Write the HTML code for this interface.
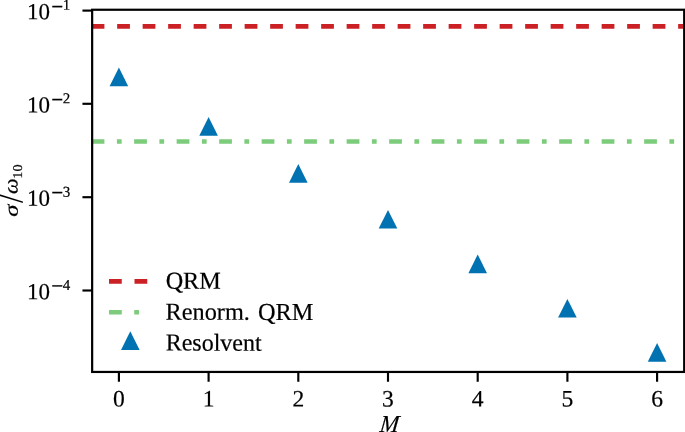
<!DOCTYPE html>
<html lang="en"><head><meta charset="utf-8"><title>sigma/omega10 vs M</title>
<style>html,body{margin:0;padding:0;background:#fff;overflow:hidden}svg{display:block}text{font-family:"Liberation Serif",serif;fill:#000;stroke:#000;stroke-width:0.2px;text-rendering:geometricPrecision}</style></head><body>
<svg width="685" height="432" viewBox="0 0 685 432">
<rect width="685" height="432" fill="#fff"/>
<line x1="91.65" x2="684.2" y1="26.4" y2="26.4" stroke="#cb2124" stroke-width="4.6" stroke-dasharray="12.75 12.75"/>
<line x1="91.65" x2="684.2" y1="141.55" y2="141.55" stroke="#7ccc7c" stroke-width="4.6" stroke-dasharray="12.75 12.5 4.75 12.5"/>
<polygon points="118.90,67.50 109.60,86.20 128.20,86.20" fill="#0072b2"/>
<polygon points="208.60,117.00 199.30,135.70 217.90,135.70" fill="#0072b2"/>
<polygon points="298.30,164.00 289.00,182.70 307.60,182.70" fill="#0072b2"/>
<polygon points="388.00,209.90 378.70,228.60 397.30,228.60" fill="#0072b2"/>
<polygon points="477.70,254.50 468.40,273.20 487.00,273.20" fill="#0072b2"/>
<polygon points="567.40,298.90 558.10,317.60 576.70,317.60" fill="#0072b2"/>
<polygon points="657.10,343.00 647.80,361.70 666.40,361.70" fill="#0072b2"/>
<line x1="118.9" x2="118.9" y1="371.95" y2="381.75" stroke="#000" stroke-width="2.15"/>
<line x1="208.6" x2="208.6" y1="371.95" y2="381.75" stroke="#000" stroke-width="2.15"/>
<line x1="298.3" x2="298.3" y1="371.95" y2="381.75" stroke="#000" stroke-width="2.15"/>
<line x1="388.0" x2="388.0" y1="371.95" y2="381.75" stroke="#000" stroke-width="2.15"/>
<line x1="477.7" x2="477.7" y1="371.95" y2="381.75" stroke="#000" stroke-width="2.15"/>
<line x1="567.4" x2="567.4" y1="371.95" y2="381.75" stroke="#000" stroke-width="2.15"/>
<line x1="657.1" x2="657.1" y1="371.95" y2="381.75" stroke="#000" stroke-width="2.15"/>
<line x1="82.45" x2="92.15" y1="10.6" y2="10.6" stroke="#000" stroke-width="2.15"/>
<line x1="82.45" x2="92.15" y1="103.8" y2="103.8" stroke="#000" stroke-width="2.15"/>
<line x1="82.45" x2="92.15" y1="197.2" y2="197.2" stroke="#000" stroke-width="2.15"/>
<line x1="82.45" x2="92.15" y1="290.5" y2="290.5" stroke="#000" stroke-width="2.15"/>
<rect x="92.15" y="9.75" width="592.05" height="362.20" fill="none" stroke="#000" stroke-width="2.2"/>
<line x1="109" x2="151.5" y1="281.4" y2="281.4" stroke="#cb2124" stroke-width="4.6" stroke-dasharray="12.75 12.75"/>
<line x1="109" x2="151.5" y1="312.3" y2="312.3" stroke="#7ccc7c" stroke-width="4.6" stroke-dasharray="12.75 12.5 4.75 12.5"/>
<polygon points="130.30,331.35 121.00,350.05 139.60,350.05" fill="#0072b2"/>
<text transform="translate(165.63 288.70) rotate(0.05) scale(0.9910 1)" font-size="24.43">QRM</text>
<text transform="translate(165.57 319.80) rotate(0.05) scale(0.9944 1)" font-size="24.43">Renorm. <tspan x="93.03">QRM</tspan></text>
<text transform="translate(165.68 350.60) rotate(0.05) scale(0.9831 1)" font-size="24.43">Resolvent</text>
<text transform="translate(118.90 406.63) rotate(0.05) scale(0.9995 1)" font-size="23.58" text-anchor="middle">0</text>
<text transform="translate(208.60 406.63) rotate(0.05) scale(0.9995 1)" font-size="23.58" text-anchor="middle">1</text>
<text transform="translate(298.30 406.63) rotate(0.05) scale(0.9995 1)" font-size="23.58" text-anchor="middle">2</text>
<text transform="translate(388.00 406.63) rotate(0.05) scale(0.9995 1)" font-size="23.58" text-anchor="middle">3</text>
<text transform="translate(477.70 406.63) rotate(0.05) scale(0.9995 1)" font-size="23.58" text-anchor="middle">4</text>
<text transform="translate(567.40 406.63) rotate(0.05) scale(0.9995 1)" font-size="23.58" text-anchor="middle">5</text>
<text transform="translate(657.10 406.63) rotate(0.05) scale(0.9995 1)" font-size="23.58" text-anchor="middle">6</text>
<g>
<text transform="translate(26.98 19.24) rotate(0.05) scale(0.9989 1)" font-size="23.01">10</text>
<text transform="translate(51.14 14.44) rotate(0.05) scale(0.8865 1)" font-size="24.00">−</text>
<text transform="translate(66.55 9.73) rotate(0.05) scale(0.9969 1)" font-size="15.05" text-anchor="middle">1</text>
</g>
<g>
<text transform="translate(26.98 112.44) rotate(0.05) scale(0.9989 1)" font-size="23.01">10</text>
<text transform="translate(51.14 107.49) rotate(0.05) scale(0.8865 1)" font-size="24.00">−</text>
<text transform="translate(66.55 103.33) rotate(0.05) scale(0.9969 1)" font-size="15.05" text-anchor="middle">2</text>
</g>
<g>
<text transform="translate(26.98 205.84) rotate(0.05) scale(0.9989 1)" font-size="23.01">10</text>
<text transform="translate(51.14 200.54) rotate(0.05) scale(0.8865 1)" font-size="24.00">−</text>
<text transform="translate(66.55 196.73) rotate(0.05) scale(0.9969 1)" font-size="15.05" text-anchor="middle">3</text>
</g>
<g>
<text transform="translate(26.98 299.14) rotate(0.05) scale(0.9989 1)" font-size="23.01">10</text>
<text transform="translate(51.14 293.64) rotate(0.05) scale(0.8865 1)" font-size="24.00">−</text>
<text transform="translate(66.55 290.03) rotate(0.05) scale(0.9969 1)" font-size="15.05" text-anchor="middle">4</text>
</g>
<text transform="translate(379.23 432.10) rotate(0.05) skewX(-6.4) scale(0.9337 1)" font-size="24.43" style="font-style:italic">M</text>
<g transform="rotate(-90)">
<text transform="translate(-216.79 17.80) rotate(0.05) scale(1.2537 1)" font-size="19.62" style="font-style:italic">σ</text>
<text transform="translate(-203.00 22.53) rotate(0.05) scale(0.8888 1)" font-size="36.97" style="stroke:none">/</text>
<text transform="translate(-194.06 17.40) rotate(0.05) scale(1.0807 1)" font-size="20.42" style="font-style:italic">ω</text>
<text transform="translate(-178.67 21.93) rotate(0.05) scale(1.0450 1)" font-size="13.53">10</text>
</g>
</svg></body></html>
